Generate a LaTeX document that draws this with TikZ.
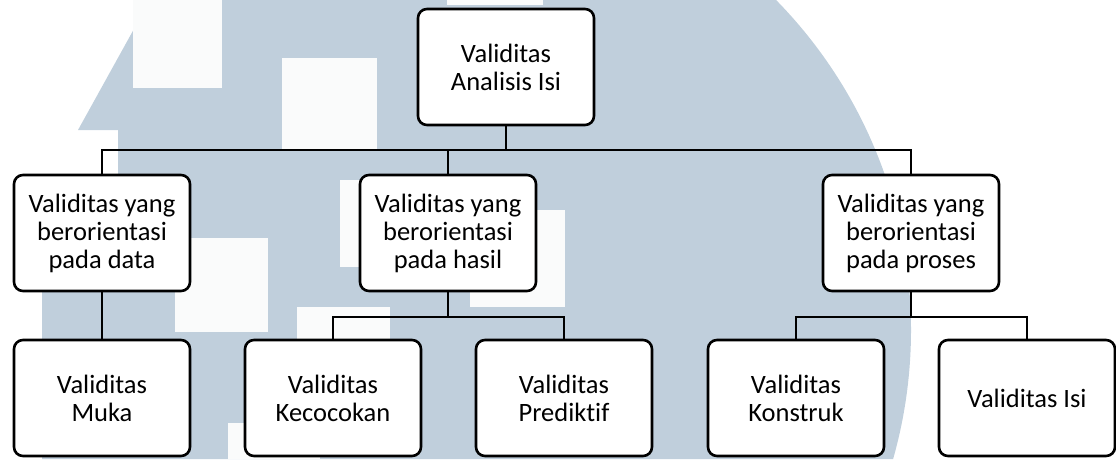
\documentclass[tikz,border=0pt]{standalone}
\usepackage{fontspec}
\setmainfont{Carlito}[Ligatures=NoCommon]
\definecolor{wmblue}{RGB}{192,207,220}
\definecolor{wmwhite}{RGB}{250,251,251}

\begin{document}
\begin{tikzpicture}[x=1pt,y=-1pt,
    box/.style={draw,line width=2.6pt,fill=white,rounded corners=9pt,
      minimum width=176pt,minimum height=116pt,inner sep=0pt,
      align=center,font=\fontsize{26.5}{28}\selectfont},
    link/.style={line width=2.6pt}]
  \useasboundingbox (0,0) rectangle (1116,459);

  % watermark in the background
  \begin{scope}
    \clip (440,330) circle [radius=471pt];
    \fill[wmblue] (42,459) -- (42,180) -- (118,180) -- (118,130) -- (78,130)
      -- (150,0) -- (1116,0) -- (1116,459) -- cycle;
  \end{scope}
  \foreach \xa/\ya/\xb/\yb in {133/0/222/88, 282/58/377/150, 175/238/268/332,
      297/307/390/400, 228/423/320/459, 340/180/430/267, 470/210/565/307, 447/-90/543/5}
    \fill[wmwhite] (\xa,\ya) rectangle (\xb,\yb);

  % boxes
  \node[box] (root) at (506,67) {Validitas\\Analisis Isi};
  \node[box] (data) at (102,233) {Validitas yang\\berorientasi\\pada data};
  \node[box] (hasil) at (448,233) {Validitas yang\\berorientasi\\pada hasil};
  \node[box] (proses) at (911,233) {Validitas yang\\berorientasi\\pada proses};
  \node[box] (muka) at (102,398) {Validitas\\Muka};
  \node[box] (cocok) at (333,398) {Validitas\\Kecocokan};
  \node[box] (predik) at (564,398) {Validitas\\Prediktif};
  \node[box] (konstruk) at (796,398) {Validitas\\Konstruk};
  \node[box] (isi) at (1027,398) {Validitas Isi};

  \coordinate (bus) at (0,150);
  \coordinate (sub) at (0,317);

  % connectors
  \draw[link] (root.south) -- (root.south |- bus);
  \draw[link] (data.north) |- (proses.north |- bus) -- (proses.north);
  \draw[link] (hasil.north) -- (hasil.north |- bus);
  \draw[link] (data.south) -- (muka.north);
  \draw[link] (hasil.south) -- (hasil.south |- sub);
  \draw[link] (cocok.north) |- (predik.north |- sub) -- (predik.north);
  \draw[link] (proses.south) -- (proses.south |- sub);
  \draw[link] (konstruk.north) |- (isi.north |- sub) -- (isi.north);
\end{tikzpicture}
\end{document}
